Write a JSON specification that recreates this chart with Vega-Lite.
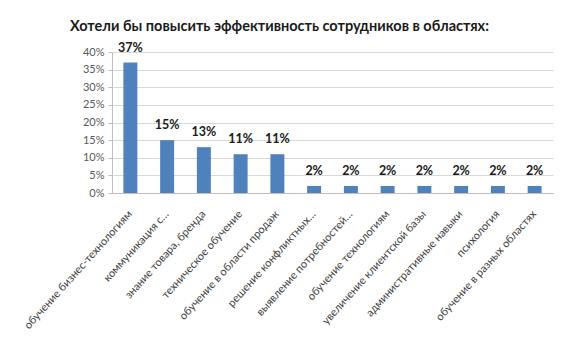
{
  "$schema": "https://vega.github.io/schema/vega-lite/v6.json",
  "width": 441,
  "height": 141,
  "autosize": {"type": "none"},
  "padding": {"left": 112, "top": 52, "right": 8, "bottom": 167},
  "background": "white",
  "config": {
    "font": "Lato",
    "view": {"stroke": null}
  },
  "title": {
    "text": "Хотели бы повысить эффективность сотрудников в областях:",
    "font": "Lato",
    "fontSize": 14.5,
    "fontWeight": "bold",
    "color": "#1a1a1a",
    "anchor": "middle",
    "dx": -53,
    "offset": 7
  },
  "data": {
    "values": [
      {"area": "обучение бизнес-технологиям", "share": 0.37},
      {"area": "коммуникация с…", "share": 0.15},
      {"area": "знание товара, бренда", "share": 0.13},
      {"area": "техническое обучение", "share": 0.11},
      {"area": "обучение в области продаж", "share": 0.11},
      {"area": "решение конфликтных…", "share": 0.02},
      {"area": "выявление потребностей…", "share": 0.02},
      {"area": "обучение технологиям", "share": 0.02},
      {"area": "увеличение клиентской базы", "share": 0.02},
      {"area": "административные навыки", "share": 0.02},
      {"area": "психология", "share": 0.02},
      {"area": "обучение в разных областях", "share": 0.02}
    ]
  },
  "encoding": {
    "x": {
      "field": "area",
      "type": "nominal",
      "sort": null,
      "scale": {"paddingInner": 0.62, "paddingOuter": 0.31},
      "axis": {
        "title": null,
        "labelAngle": -48,
        "labelAlign": "right",
        "labelBaseline": "middle",
        "labelPadding": 19,
        "labelFontSize": 11,
        "labelColor": "#404040",
        "labelLimit": 220,
        "ticks": false,
        "domainColor": "#bfbfbf",
        "grid": false
      }
    },
    "y": {
      "field": "share",
      "type": "quantitative",
      "scale": {"domain": [0, 0.4], "nice": false},
      "axis": {
        "title": null,
        "format": ".0%",
        "values": [0, 0.05, 0.1, 0.15, 0.2, 0.25, 0.3, 0.35, 0.4],
        "labelFontSize": 11,
        "labelColor": "#595959",
        "labelPadding": 4,
        "tickSize": 4,
        "tickColor": "#bfbfbf",
        "domainColor": "#bfbfbf",
        "gridColor": "#d9d9d9"
      }
    }
  },
  "layer": [
    {"mark": {"type": "bar", "color": "#4f81bd"}},
    {
      "mark": {"type": "text", "baseline": "bottom", "dy": -8, "fontSize": 12.5, "fontWeight": "bold", "color": "#1a1a1a"},
      "encoding": {"text": {"field": "share", "type": "quantitative", "format": ".0%"}}
    }
  ]
}
